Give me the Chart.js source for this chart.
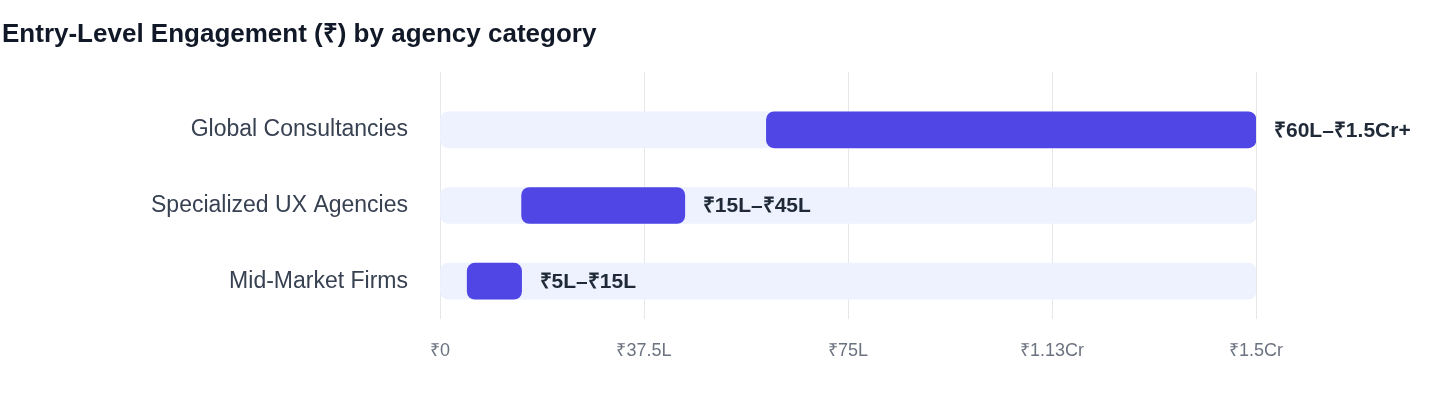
<!DOCTYPE html>
<html><head><meta charset="utf-8">
<script src="https://cdn.jsdelivr.net/npm/chart.js@4"></script>
<style>
html,body{margin:0;padding:0;background:#fff;font-family:"Liberation Sans",Arial,sans-serif;}
#t{position:absolute;left:2px;top:14px;font-size:26px;font-weight:bold;color:#111827;}
#w{position:absolute;left:0;top:0;width:1440px;height:408px;}
</style></head><body>
<div id="w"><canvas id="c"></canvas></div>
<div id="t">Entry-Level Engagement (₹) by agency category</div>
<script>
const categories = ["Global Consultancies","Specialized UX Agencies","Mid-Market Firms"];
const lows = [60,15,5];
const highs = [150,45,15];
const rangeLabels = ["₹60L–₹1.5Cr+","₹15L–₹45L","₹5L–₹15L"];
const tickValues = [0,37.5,75,112.5,150];
const tickLabels = ["₹0","₹37.5L","₹75L","₹1.13Cr","₹1.5Cr"];
const axisMax = 150;
const FONT = '"Liberation Sans", Arial, sans-serif';

const labelPlugin = {
  id:'rangeLabels',
  beforeDatasetsDraw(chart){
    const x = chart.scales.x, ctx = chart.ctx, top = chart.chartArea.top;
    ctx.save();
    ctx.strokeStyle = '#E5E7EB'; ctx.lineWidth = 1;
    tickValues.forEach(v=>{
      const px = Math.round(x.getPixelForValue(v)) + 0.5;
      ctx.beginPath(); ctx.moveTo(px, top - 20); ctx.lineTo(px, top); ctx.stroke();
    });
    ctx.restore();
  },
  afterDatasetsDraw(chart){
    const meta = chart.getDatasetMeta(1);
    const ctx = chart.ctx;
    ctx.save();
    ctx.font = 'bold 21px ' + FONT;
    ctx.fillStyle = '#1F2937';
    ctx.textBaseline = 'middle';
    meta.data.forEach((b,i)=>{ ctx.fillText(rangeLabels[i], b.x + 18, b.y + 1); });
    ctx.restore();
  }
};

new Chart(document.getElementById('c'),{
  type:'bar',
  data:{labels:categories,datasets:[
    {data:categories.map(()=>[0,axisMax]),backgroundColor:'#EEF2FF',borderRadius:8,borderSkipped:false,barThickness:36,grouped:false,order:2},
    {data:lows.map((l,i)=>[l,highs[i]]),backgroundColor:'#4F46E5',borderRadius:8,borderSkipped:false,barThickness:36,grouped:false,order:1}
  ]},
  options:{
    indexAxis:'y',responsive:true,maintainAspectRatio:false,animation:false,
    layout:{padding:{top:92,right:184,bottom:30,left:0}},
    plugins:{legend:{display:false},tooltip:{enabled:false}},
    scales:{
      x:{min:0,max:axisMax,
        afterBuildTicks(s){s.ticks=tickValues.map(v=>({value:v}));},
        afterFit(s){s.height=59;},
        grid:{color:'#E5E7EB',tickLength:0,drawTicks:false},
        border:{display:false},
        ticks:{padding:21,color:'#6B7280',font:{size:18,family:FONT},
          callback:(v,i)=>tickLabels[i]}},
      y:{grid:{display:false},border:{display:false},
        afterFit(s){s.width=440;},
        ticks:{padding:24,color:'#374151',font:{size:23,family:FONT}}}
    }
  },
  plugins:[labelPlugin]
});
</script></body></html>
